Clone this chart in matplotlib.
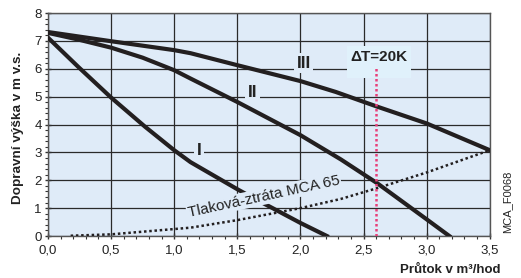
import matplotlib
matplotlib.use("Agg")
import matplotlib.pyplot as plt
from matplotlib.ticker import MultipleLocator
from matplotlib.patches import Rectangle

plt.rcParams["font.family"] = ["Liberation Sans", "DejaVu Sans"]

# Data (flow in m3/h, head in m)
q_I = [0.0, 0.24, 0.5, 0.77, 1.0, 1.13, 1.5, 1.62, 1.78, 2.0, 2.21]
h_I = [7.12, 6.07, 4.97, 3.92, 3.08, 2.65, 1.68, 1.38, 1.0, 0.47, 0.0]
q_II = [0.0, 0.24, 0.5, 0.75, 1.0, 1.13, 1.5, 2.0, 2.32, 2.61, 3.0, 3.18]
h_II = [7.29, 7.05, 6.76, 6.4, 5.95, 5.65, 4.81, 3.62, 2.75, 1.89, 0.6, 0.0]
q_III = [0.0, 0.5, 1.0, 1.13, 1.5, 2.0, 2.28, 2.61, 3.0, 3.5]
h_III = [7.32, 6.99, 6.67, 6.56, 6.13, 5.56, 5.17, 4.64, 4.04, 3.08]
q_loss = [0.18, 0.5, 1.0, 1.13, 1.5, 2.0, 2.32, 2.61, 3.0, 3.5]
h_loss = [0.01, 0.06, 0.25, 0.3, 0.57, 1.0, 1.33, 1.72, 2.28, 3.08]
dT_q = 2.6
dT_top = 6.07
xticks = [0.0, 0.5, 1.0, 1.5, 2.0, 2.5, 3.0, 3.5]
xticklabels = ["0,0", "0,5", "1,0", "1,5", "2,0", "2,5", "3,0", "3,5"]
yticks = [0, 1, 2, 3, 4, 5, 6, 7, 8]

bg = "#dfebf8"
txt = "#222222"
ink = "#231f20"

fig = plt.figure(figsize=(5.21, 2.78), dpi=100)
ax = fig.add_axes([0.092, 0.151, 0.848, 0.802])
ax.set_facecolor(bg)
ax.set_xlim(0, 3.5)
ax.set_ylim(0, 8)

ax.set_xticks(xticks)
ax.set_xticklabels(xticklabels)
ax.set_yticks(yticks)
ax.xaxis.set_minor_locator(MultipleLocator(0.1))
ax.yaxis.set_minor_locator(MultipleLocator(0.2))
ax.tick_params(axis="both", which="major", direction="inout", length=5, width=1,
               colors="#333333", labelsize=9.5, labelcolor=txt)
ax.tick_params(axis="both", which="minor", direction="out", length=2.5, width=0.8,
               colors="#333333")
ax.tick_params(axis="x", which="major", pad=3.5)
ax.tick_params(axis="y", which="major", pad=2)
ax.grid(True, which="major", color="#2a2a2a", linewidth=0.9)
ax.set_axisbelow(True)
for s in ax.spines.values():
    s.set_color("#555555")
    s.set_linewidth(1.0)

lw = 3.0
ax.plot(q_I, h_I, color=ink, lw=lw, zorder=3, solid_joinstyle="round")
ax.plot(q_II, h_II, color=ink, lw=lw, zorder=3, solid_joinstyle="round")
ax.plot(q_III, h_III, color=ink, lw=lw, zorder=3, solid_joinstyle="round")
ax.plot(q_loss, h_loss, color=ink, lw=1.8, ls=(0, (1, 1.1)), zorder=3)
ax.plot([dT_q, dT_q], [0, dT_top], color="#e8407a", lw=1.8, ls=(0, (1, 1)), zorder=6)

box = dict(boxstyle="square,pad=0.15", facecolor=bg, edgecolor="none")
ax.text(1.2, 3.08, "I", fontsize=12.5, fontweight="bold", color=txt,
        ha="center", va="center", bbox=box, zorder=4)
ax.text(1.62, 5.14, "II", fontsize=12.5, fontweight="bold", color=txt,
        ha="center", va="center", bbox=box, zorder=4)
ax.text(2.026, 6.2, "III", fontsize=12.5, fontweight="bold", color=txt,
        ha="center", va="center", bbox=box, zorder=4)
ax.add_patch(Rectangle((2.37, 5.66), 0.51, 1.15, facecolor="#e0f1fb",
                       edgecolor="none", zorder=4))
ax.text(2.625, 6.44, "ΔT=20K", fontsize=11, fontweight="bold", color=txt,
        ha="center", va="center", zorder=5)
ax.text(1.71, 1.42, "Tlaková-ztráta MCA 65", fontsize=11, color=txt,
        ha="center", va="center", rotation=12.2, rotation_mode="anchor",
        bbox=dict(boxstyle="square,pad=0.08", facecolor=bg, edgecolor="none"),
        zorder=4)

fig.text(0.035, 0.54, "Dopravní výška v m v.s.", rotation=90, fontsize=9.7,
         fontweight="bold", color=txt, ha="center", va="center")
fig.text(0.96, 0.03, "Průtok v m³/hod", fontsize=9.5, fontweight="bold",
         color=txt, ha="right", va="center")
fig.text(0.973, 0.162, "MCA_F0068", rotation=90, fontsize=8, color=txt,
         ha="center", va="bottom")

fig.savefig("out.png", dpi=100)
